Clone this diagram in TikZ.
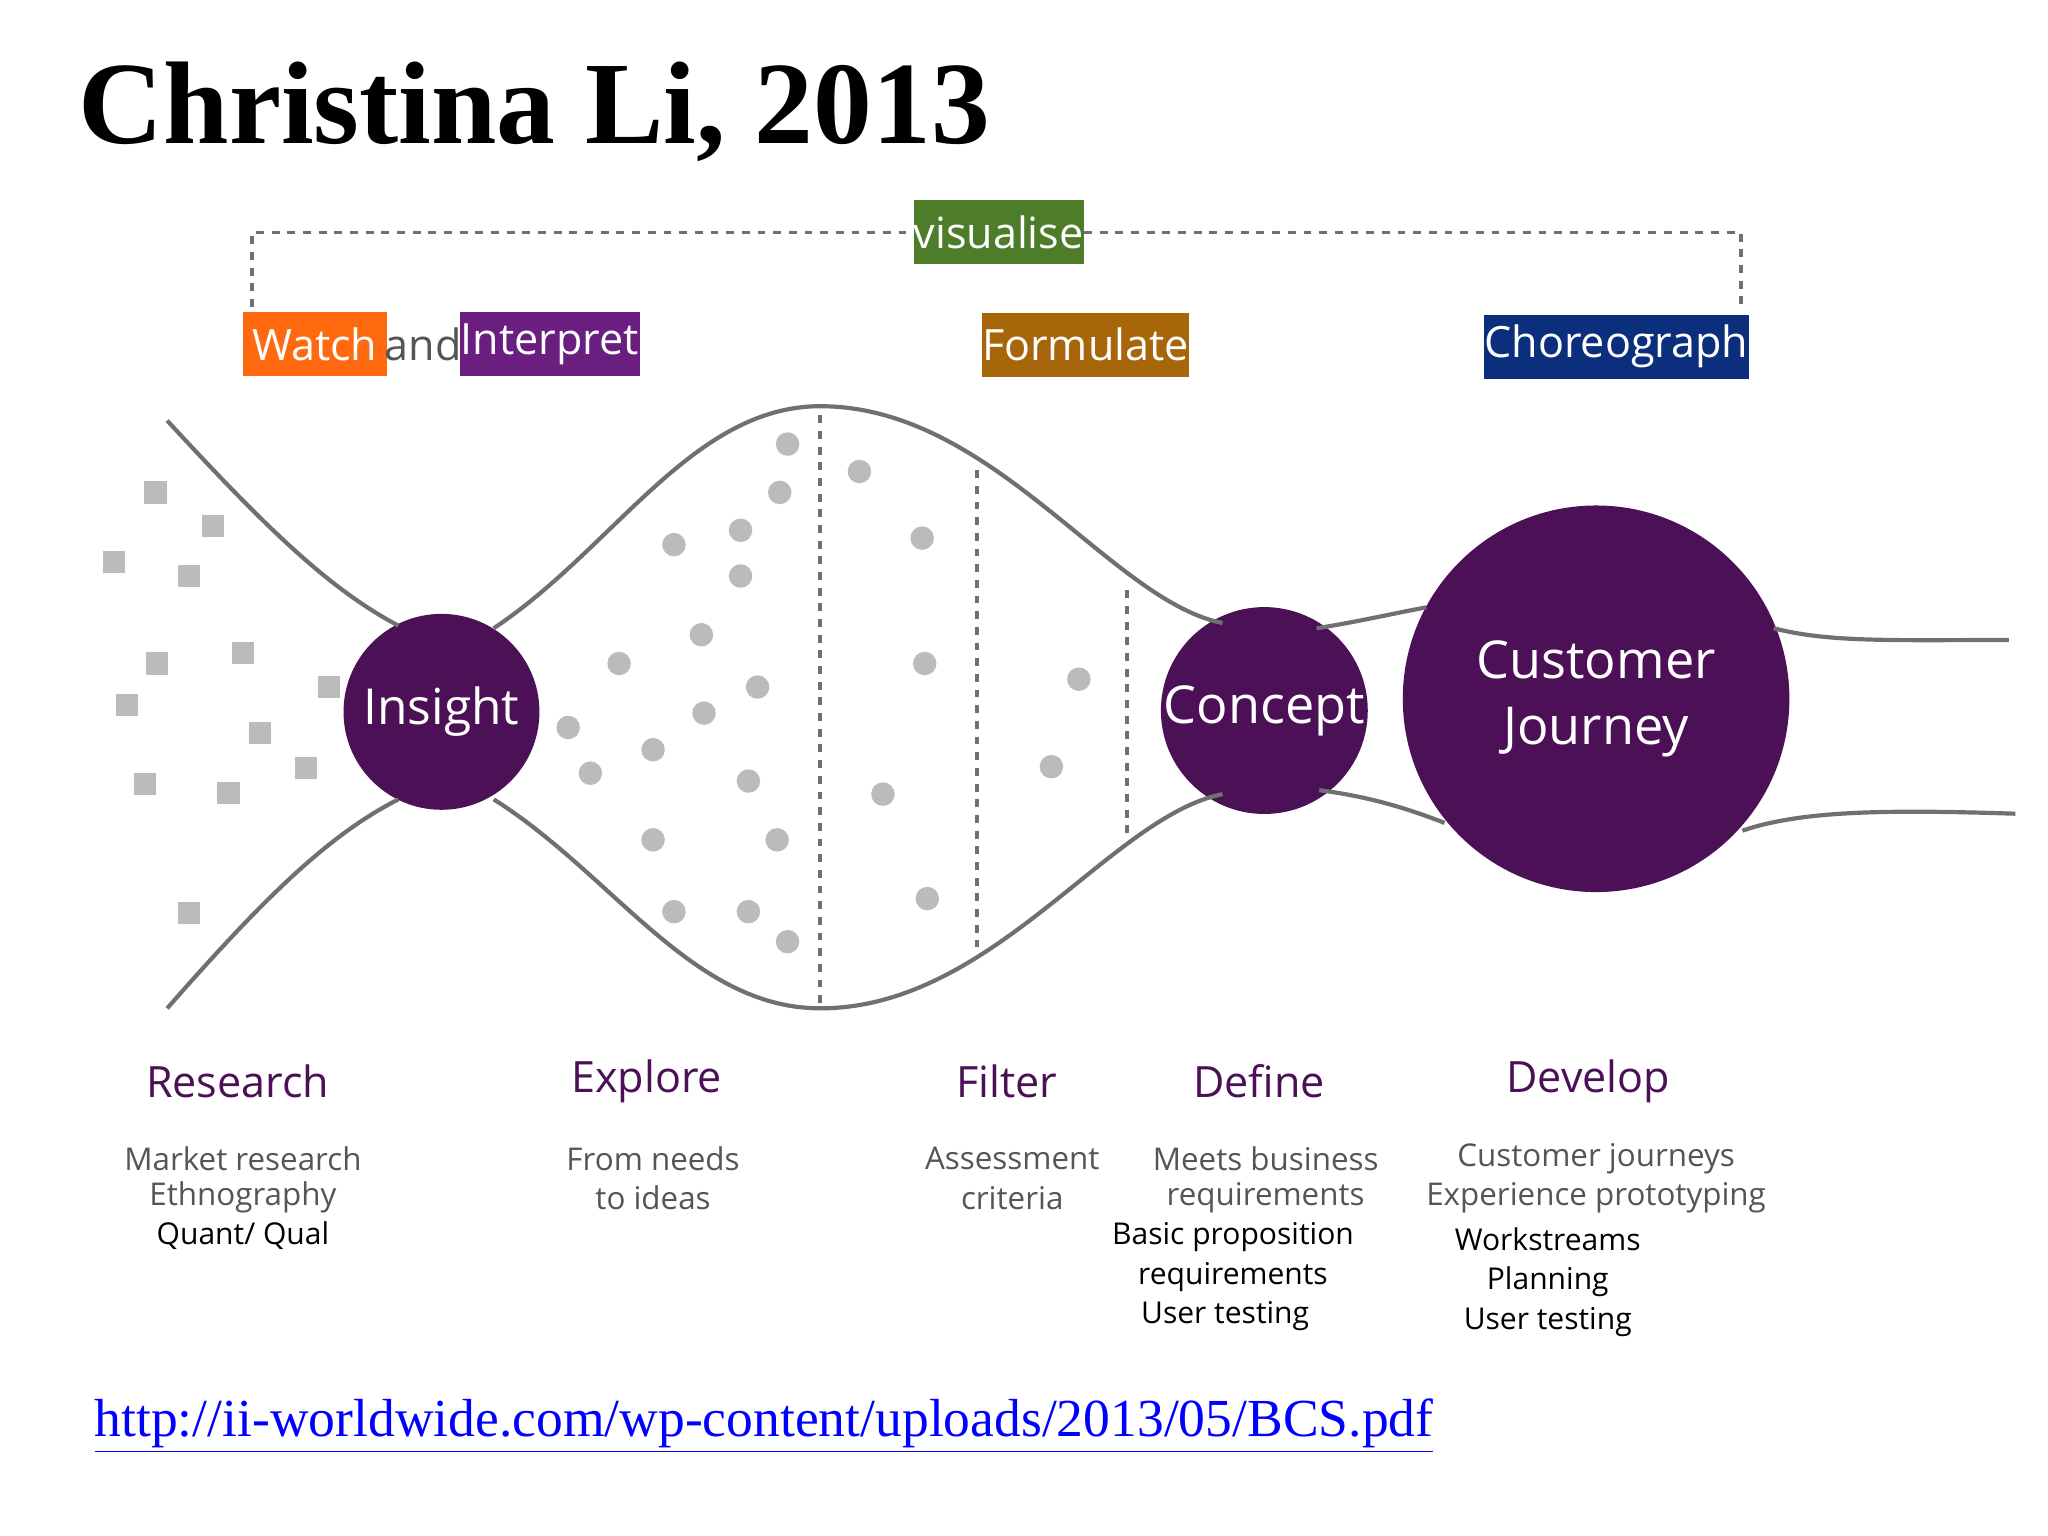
\documentclass[tikz,border=0pt]{standalone}
\usepackage{fontspec}
\setmainfont{Open Sans}
\newfontfamily\titlefont{Liberation Serif}
\definecolor{plum}{HTML}{4B1055}
\definecolor{vgreen}{HTML}{4E7D2A}
\definecolor{worange}{HTML}{FF6A10}
\definecolor{ipurple}{HTML}{6A1F80}
\definecolor{fbrown}{HTML}{A8660A}
\definecolor{cnavy}{HTML}{0B2F7D}
\definecolor{lgray}{HTML}{BBBBBB}
\definecolor{cgray}{HTML}{707070}
\definecolor{tgray}{HTML}{555555}
\begin{document}
\begin{tikzpicture}[x=0.5pt,y=-0.5pt,
  tag/.style={inner sep=0pt,minimum height=24.5pt,text=white,font=\fontsize{16.5}{18}\selectfont},
  bubble/.style={circle,fill=plum,inner sep=0pt,text=white,align=center},
  curve/.style={draw=cgray,line width=1.6pt},
  vdash/.style={draw=cgray,line width=1.4pt,dash pattern=on 3pt off 3pt},
  sq/.style={fill=lgray,minimum size=8.5pt,inner sep=0pt},
  dot/.style={circle,fill=lgray,minimum size=9pt,inner sep=0pt},
  head/.style={text=plum,font=\fontsize{16.5}{18}\selectfont},
  sub/.style={text=tgray,font=\fontsize{12}{14}\selectfont\addfontfeatures{}},
  subb/.style={text=black,font=\fontsize{11.5}{14}\selectfont}]
\useasboundingbox[fill=white] (0,0) rectangle (1568,1176);
\node[anchor=base west,inner sep=0pt,font=\titlefont\bfseries\fontsize{45}{50}\selectfont] (title) at (60,110) {Christina Li, 2013};
% bracket
\node[tag,fill=vgreen,minimum width=61.5pt] (vis) at (764.5,178) {visualise};
\coordinate (bl) at (193,235); \coordinate (br) at (1333,235);
\draw[vdash] (bl) |- (vis.west);
\draw[vdash] (vis.east) -| (br);
\node[tag,fill=worange,minimum width=55pt] (watch) at (241,263.5) {Watch};
\node[text=tgray,font=\fontsize{16.5}{18}\selectfont,inner sep=0pt] (and) at (324,263.5) {and};
\node[tag,fill=ipurple,minimum width=69pt] (interp) at (421,263.5) {Interpret};
\node[tag,fill=fbrown,minimum width=75pt] (form) at (831,264) {Formulate};
\node[tag,fill=cnavy,minimum width=101.5pt] (chor) at (1237.5,265.5) {Choreograph};
% circles
\node[bubble,minimum size=75pt,font=\fontsize{19}{22}\selectfont] (ins) at (338,545) {Insight};
\node[bubble,minimum size=75pt,font=\fontsize{20}{22}\selectfont] (con) at (968,544) {Concept};
\node[bubble,minimum size=148pt,font=\fontsize{20}{25}\selectfont] (cj) at (1222,535) {Customer\\Journey};
% funnel curves
\draw[curve] (128,322) .. controls (200,400) and (250,450) .. (305,479);
\draw[curve] (378,481) .. controls (470,420) and (530,311) .. (628,311) .. controls (760,311) and (850,460) .. (936,477);
\draw[curve] (1008,481) .. controls (1040,476) and (1065,470) .. (1092,465);
\draw[curve] (1358,481) .. controls (1400,492) and (1450,490) .. (1538,490);
\draw[curve] (128,772) .. controls (200,690) and (250,640) .. (305,612);
\draw[curve] (378,612) .. controls (470,670) and (530,772) .. (628,772) .. controls (760,772) and (850,625) .. (936,608);
\draw[curve] (1010,605) .. controls (1050,610) and (1080,620) .. (1106,630);
\draw[curve] (1334,636) .. controls (1380,620) and (1450,620) .. (1543,623);
% dashed verticals
\draw[vdash] (628,318) -- (628,770);
\draw[vdash] (748,360) -- (748,725);
\draw[vdash] (863,452) -- (863,640);
% squares
\foreach \p in {(119,377),(163,403),(87,430),(145,441),(186,500),(120,508),(252,526),(97,540),(199,561),(234,588),(111,600),(175,607),(145,699)}
  \node[sq] at \p {};
\foreach \p in {(603,340),(597,377),(567,406),(516,417),(567,441),(537,486),(474,508),(580,526),(539,546),(435,557),(500,574),(452,592),(573,598),(500,643),(595,643),(516,698),(573,698),(603,721),(658,361),(706,412),(708,508),(676,608),(710,688),(826,520),(805,587)}
  \node[dot] at \p {};
% headings
\node[head] (h1) at (182,828) {Research};
\node[head] (h2) at (495,828) {Explore};
\node[head] (h3) at (771,828) {Filter};
\node[head] (h4) at (964,828) {Define};
\node[head] (h5) at (1216,828) {Develop};
\node[sub] at (186,887) {Market research};
\node[sub] at (186,917) {Ethnography};
\node[subb] at (186,946) {Quant/ Qual};
\node[sub] at (500,887) {From needs};
\node[sub] at (500,917) {to ideas};
\node[sub] at (775,887) {Assessment};
\node[sub] at (775,917) {criteria};
\node[sub] at (969,887) {Meets business};
\node[sub] at (969,917) {requirements};
\node[subb] at (944,947) {Basic proposition};
\node[subb] at (944,978) {requirements};
\node[subb] at (938,1008) {User testing};
\node[sub] at (1222,887) {Customer journeys};
\node[sub] at (1222,917) {Experience prototyping};
\node[subb] at (1185,949) {Workstreams};
\node[subb] at (1185,981) {Planning};
\node[subb] at (1185,1012) {User testing};
\node[anchor=base west,inner sep=0pt,text=blue,font=\titlefont\fontsize{20.5}{24}\selectfont] (url) at (72,1100) {\underline{http://ii-worldwide.com/wp-content/uploads/2013/05/BCS.pdf}};
\end{tikzpicture}
\end{document}
